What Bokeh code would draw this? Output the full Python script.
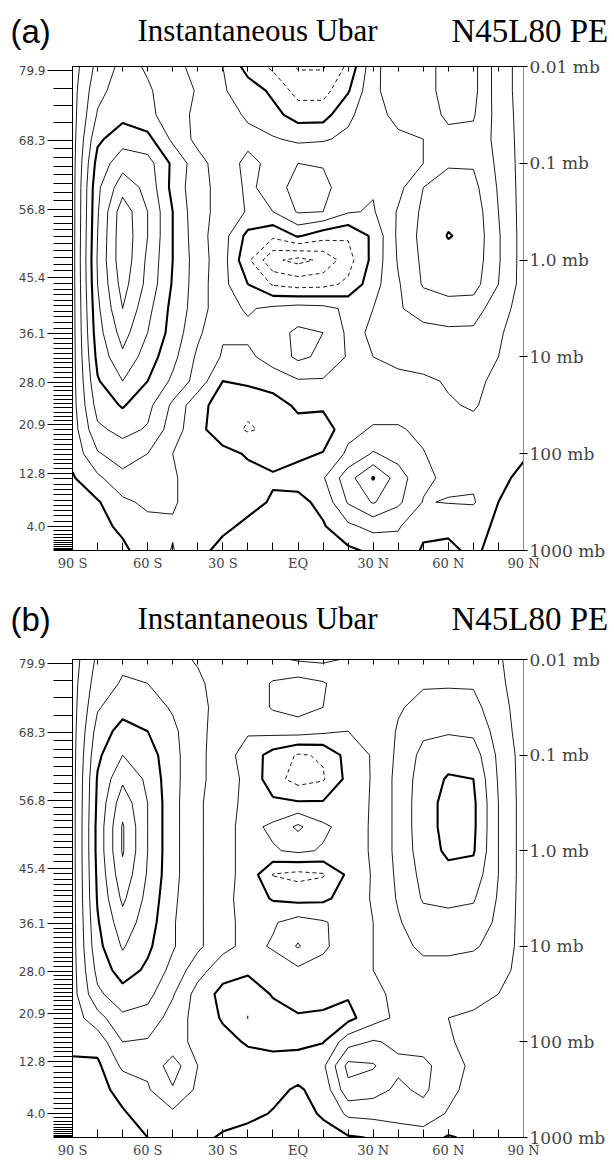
import numpy as np
from bokeh.plotting import figure
from bokeh.models import Range1d, LinearAxis, FixedTicker
from bokeh.core.properties import value
from bokeh.layouts import column, row
from bokeh.embed import file_html
from bokeh.resources import INLINE

# ---------------- data ----------------
LATS = [-90, -80, -70, -60, -50, -40, -30, -20, -10, 0, 10, 20, 30, 40, 50, 60, 70, 80, 90]
# rows: log10(pressure / mb) from -2 (0.01 mb, top) to 3 (1000 mb, bottom), step 0.25
LOGP = [-2.0, -1.75, -1.5, -1.25, -1.0, -0.75, -0.5, -0.25, 0.0, 0.25, 0.5,
        0.75, 1.0, 1.25, 1.5, 1.75, 2.0, 2.25, 2.5, 2.75, 3.0]

U_A = [
    [5, 23, 33, 29, 23, 17, 10, -4, -12, -21, -21, -8, 17, 27, 27, 33, 33, 15, 6],
    [6, 27, 35, 31, 26, 19, 11, 5, -2, -14, -14, -1, 18, 25, 27, 33, 33, 15, 6],
    [6, 31, 37, 33, 24, 18, 13, 9, 3, -4, -4, 8, 16, 23, 25, 32, 31, 16, 6],
    [6, 38, 46, 43, 28, 17, 13, 12, 11, 8, 9, 12, 15, 18, 20, 27, 27, 17, 6],
    [6, 44, 56, 54, 38, 24, 14, 8, 12, 20, 19, 11, 12, 17, 20, 29, 29, 18, 6],
    [6, 48, 66, 57, 37, 23, 17, 8, 14, 25, 24, 12, 11, 17, 30, 34, 33, 19, 6],
    [6, 49, 76, 60, 40, 23, 17, 9, 10, 21, 20, 11, 9, 21, 32, 37, 36, 20, 6],
    [6, 50, 77, 60, 40, 24, 14, -3, -8, 1, -6, -9, 2, 22, 33, 40.6, 37, 21, 6],
    [6, 51, 77, 58, 40, 25, 14, -8, -28, -33, -28, -14, 3, 21, 32, 36, 36, 21, 6],
    [6, 50, 74, 57, 39, 25, 13, 0, -11, -14, -13, -8, 6, 19, 31, 34, 34, 20, 6],
    [6, 48, 70, 53, 37, 25, 13, 9, 12, 14, 13, 8, 10, 19, 24, 26, 25, 14, 6],
    [6, 46, 64, 50, 36, 22, 11, 12, 16, 22, 20, 8, 11, 16, 17, 18, 18, 11, 6],
    [6, 43, 58, 45, 33, 18, 9, 8, 14, 22, 18, 9, 10, 13, 15, 16, 16, 10, 6],
    [6, 39, 50, 40, 28, 16, 0, 2, 5, 9, 9, 6, 6, 7, 8, 11, 12, 8, 5],
    [6, 34, 41, 33, 18, 3, -4, -8, -5, 2, 2, 4, 6, 6, 6, 9, 11, 6, 5],
    [5, 28, 33, 29, 15, 3, -6, -11, -8, -4, -6, 7, 11, 11, 8, 6, 7, 4, 3],
    [3, 19, 25, 20, 10, 6, 3, -1, -3, -2, 0.5, 12, 21, 16, 10.5, 5, 4, 3, 1],
    [-1, 8, 17, 16, 11, 6, 9, 3, 1, 4, 9, 26, 40.8, 25, 12, 8, 8, 2, -2],
    [-3, -1, 8, 12, 11, 6, 5, 3, -1, -3, 3, 21, 31, 22, 9.5, 10.5, 11, 0, -3],
    [-4, -3, 2, 7, 9, 5, 2, -2, -4, -5, -1, 8, 13, 11, 2, 1, 2, -1, -4],
    [-4, -3, -2, 5, 10.5, 3, -3, -3, -5, -5, -4, -2, 2, 6, -1, -1, 1, -2, -4],
]

U_B = [
    [5, 22, 28, 26, 23, 19, 14, 14, 12, 9, 8, 11, 13, 15, 17, 18, 17, 11, 5],
    [6, 25, 31, 30, 26, 22, 15, 14, 21, 24, 21, 14, 13, 17, 19, 19, 19, 12, 5],
    [6, 29, 36, 34, 29, 23, 16, 14, 21, 24, 20, 13, 13, 19, 23, 24, 23, 14, 5],
    [6, 34, 44, 40, 32, 23, 15, 11, 13, 14, 12, 10, 12, 21, 28, 29, 28, 16, 5],
    [6, 38, 50, 45, 33, 23, 14, 6, -4, -11, -9, 4, 11, 22, 33, 36, 35, 18, 6],
    [6, 41, 58, 48, 33, 23, 14, 8, -6, -14, -11, 3, 11, 23, 35, 41, 40, 19, 6],
    [6, 42, 66, 50, 33, 22, 13, 8, 2, 1, 1, 5, 11, 23, 36, 43, 42, 20, 6],
    [6, 43, 71, 50, 33, 22, 13, 7, 12, 22, 12, 6, 11, 23, 36, 43, 42, 20, 6],
    [6, 43, 71, 50, 33, 22, 13, 7, 9, 12, 9, 6, 11, 23, 35, 42, 41, 20, 6],
    [6, 42, 67, 49, 33, 22, 13, 7, -10.5, -13, -11, 2, 11, 22, 33, 37, 36, 20, 6],
    [6, 41, 62, 47, 32, 22, 13, 6, -1, -3, -2, 4, 11, 21, 31, 32, 31, 19, 6],
    [6, 39, 56, 45, 31, 22, 13, 7, 9, 14, 11, 6, 10, 19, 26, 27, 26, 18, 6],
    [6, 37, 51, 42, 31, 22, 13, 7, 11, 21, 11, 7, 10, 17, 22, 22, 21, 17, 6],
    [6, 33, 45, 38, 27, 14, 4, 2, 5, 8, 8, 8, 10, 14, 17, 17, 16, 14, 6],
    [6, 28, 36, 33, 21, 6, -3, -7, 1, 4, 4, 1, 8, 12, 12, 11, 12, 10, 5],
    [5, 16, 28, 26, 16, 6, -1, -10.3, -5, -1, -2, -3, 6, 12, 11, 10, 9, 8, 4],
    [3, 4, 20, 19, 13, 8, 3, -1, -2, -2, -0.5, 16, 21, 18, 15, 11, 7, 5, 2],
    [-2, -2, 12, 12, 25, 10, 6, 4, 3, 4, 8, 33, 31, 22, 23, 14, 8, 4, 2],
    [-3, -3, 3, 9, 19, 8, 6, 4, 2, -1, 3, 27, 24, 18, 22, 13, 6, 3, 1],
    [-4, -4, -1, 4, 8, 5, 3, 2, -0.5, -3, 1, 12, 13, 12, 16, 9, 3, 2, 1],
    [-4, -4, -3, 0, 3, 2, -1, -3, -4, -5, -3, -1, 0.5, 7, 5, -1, 2, 1, 1],
]

LEVELS_NEG = [-40, -30, -20, -10]
LEVELS_THICK = [0, 40, 80]
LEVELS_THIN = [10, 20, 30, 50, 60, 70]

LAT_TICKS = [-90, -60, -30, 0, 30, 60, 90]
LAT_LABELS = ["90 S", "60 S", "30 S", "EQ", "30 N", "60 N", "90 N"]
P_TICKS_LOG = [-2, -1, 0, 1, 2, 3]
P_LABELS = ["0.01 mb", "0.1 mb", "1.0 mb", "10 mb", "100 mb", "1000 mb"]
Z_LABEL_KM = [79.9, 68.3, 56.8, 45.4, 36.1, 28.0, 20.9, 12.8, 4.0]
Z_LABEL_TXT = ["79.9", "68.3", "56.8", "45.4", "36.1", "28.0", "20.9", "12.8", "4.0"]
LEVELS_PER_SEGMENT = [4, 8, 10, 10, 10, 10, 10, 10]
LOW_LEVEL_KM = [3.3, 2.7, 2.2, 1.7, 1.3, 0.95, 0.65, 0.4, 0.2, 0.07]
KM_PER_DECADE = 16.118  # 7 km scale height * ln(10)

TITLE_LEFT = "Instantaneous Ubar"
TITLE_RIGHT = "N45L80 PE"
PANEL_TAGS = ["(a)", "(b)"]


def km_to_yv(z):
    # plotting coordinate: yv = -log10(p)
    return round(z / KM_PER_DECADE - 3.0, 5)


left_major = [km_to_yv(z) for z in Z_LABEL_KM]
left_minor = []
for i, n in enumerate(LEVELS_PER_SEGMENT):
    z0, z1 = Z_LABEL_KM[i], Z_LABEL_KM[i + 1]
    for j in range(1, n):
        left_minor.append(km_to_yv(z0 + (z1 - z0) * j / n))
left_minor += [km_to_yv(z) for z in LOW_LEVEL_KM]


def make_title(tag, height, ymid):
    t = figure(width=614, height=height, x_range=Range1d(0, 614), y_range=Range1d(0, height),
               output_backend="svg", toolbar_location=None,
               min_border=0, min_border_left=0, min_border_right=0,
               min_border_top=0, min_border_bottom=0,
               x_axis_location=None, y_axis_location=None)
    t.outline_line_color = None
    t.grid.visible = False
    t.text(x=[10], y=[ymid], text=[tag], text_font=value("Liberation Sans"),
           text_font_size="33px", text_baseline="middle", text_color="black")
    t.text(x=[137], y=[ymid + 1], text=[TITLE_LEFT], text_font=value("Liberation Serif"),
           text_font_size="31px", text_baseline="middle", text_color="black")
    t.text(x=[451], y=[ymid + 1], text=[TITLE_RIGHT], text_font=value("Liberation Serif"),
           text_font_size="33px", text_baseline="middle", text_color="black")
    return t


def make_panel(U, height, btop, bbottom):
    p = figure(width=614, height=height, x_range=Range1d(-90, 90), y_range=Range1d(-3, 2),
               output_backend="svg", toolbar_location=None,
               min_border_left=72, min_border_right=91,
               min_border_top=btop, min_border_bottom=bbottom,
               x_axis_location=None, y_axis_location=None)
    p.outline_line_color = None
    p.grid.visible = False

    x = np.array(LATS, dtype=float)
    y = -np.array(LOGP, dtype=float)[::-1]
    z = np.array(U, dtype=float)[::-1]
    p.contour(x, y, z, LEVELS_THIN, line_color="black", line_width=0.9)
    p.contour(x, y, z, LEVELS_NEG, line_color="black", line_width=0.9, line_dash="4 3")
    p.contour(x, y, z, LEVELS_THICK, line_color="black", line_width=2.1)

    # left axis: model level heights
    la = LinearAxis(ticker=FixedTicker(ticks=left_major, minor_ticks=left_minor))
    la.major_label_overrides = {v: t for v, t in zip(left_major, Z_LABEL_TXT)}
    la.major_tick_out = 25
    la.major_tick_in = 0
    la.minor_tick_out = 19
    la.minor_tick_in = 0
    la.major_label_standoff = 2
    la.major_label_text_font = "DejaVu Sans"
    la.major_label_text_font_size = "12px"
    la.axis_line_color = "black"
    la.major_tick_line_color = "black"
    la.minor_tick_line_color = "black"
    p.add_layout(la, "left")

    # right axis: pressure
    ra = LinearAxis(ticker=FixedTicker(ticks=[-v for v in P_TICKS_LOG], minor_ticks=[]))
    ra.major_label_overrides = {-v: t for v, t in zip(P_TICKS_LOG, P_LABELS)}
    ra.major_tick_out = 4
    ra.major_tick_in = 4
    ra.major_label_standoff = 2
    ra.major_label_text_font = "DejaVu Serif"
    ra.major_label_text_font_size = "17px"
    ra.axis_line_color = "#8c8c8c"
    ra.major_tick_line_color = "black"
    p.add_layout(ra, "right")

    # bottom axis: latitude
    ba = LinearAxis(ticker=FixedTicker(ticks=LAT_TICKS, minor_ticks=list(range(-90, 91, 10))))
    ba.major_label_overrides = {v: t for v, t in zip(LAT_TICKS, LAT_LABELS)}
    ba.major_tick_in = 8
    ba.major_tick_out = 0
    ba.minor_tick_in = 8
    ba.minor_tick_out = 0
    ba.major_label_standoff = 5
    ba.major_label_text_font = "DejaVu Serif"
    ba.major_label_text_font_size = "13px"
    ba.axis_line_color = "black"
    p.add_layout(ba, "below")

    # top frame line with inward ticks (minor ticks only, so no labels)
    ta = LinearAxis(ticker=FixedTicker(ticks=[], minor_ticks=list(range(-90, 91, 10))))
    ta.minor_tick_in = 5
    ta.minor_tick_out = 0
    ta.major_tick_in = 0
    ta.major_tick_out = 0
    ta.major_label_standoff = 0
    ta.axis_line_color = "black"
    p.add_layout(ta, "above")
    return p


ta_fig = make_title(PANEL_TAGS[0], 56, 25)
pa = make_panel(U_A, 533, 10, 39)
tb_fig = make_title(PANEL_TAGS[1], 60, 30)
pb = make_panel(U_B, 511, 10, 19)
layout = column(row(ta_fig, spacing=0), pa, row(tb_fig, spacing=0), pb, spacing=0)
open("out.html", "w").write(file_html(layout, INLINE))
